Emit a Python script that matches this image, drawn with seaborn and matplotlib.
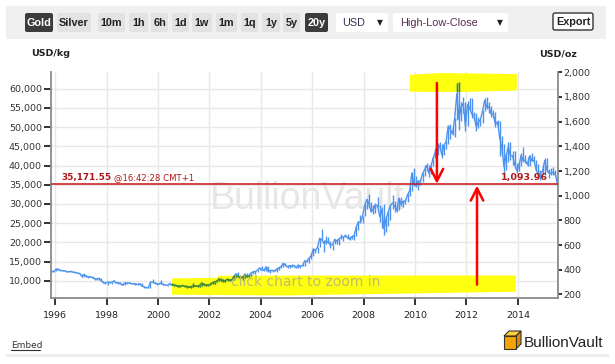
import numpy as np
import pandas as pd
import seaborn as sns
import matplotlib.pyplot as plt
from matplotlib.patches import Rectangle, FancyBboxPatch, Polygon
from matplotlib.lines import Line2D
from matplotlib.ticker import StrMethodFormatter

KG_PER_OZ = 32.1507466

# monthly gold price, USD/oz, Nov 1995 .. Jul 2015
start_year, start_month = 1995, 11
close = [387, 387,
         405, 401, 396, 392, 391, 383, 385, 387, 379, 379, 372, 369,
         345, 363, 349, 340, 345, 335, 326, 325, 332, 311, 297, 290,
         302, 297, 301, 309, 293, 296, 288, 274, 294, 292, 294, 288,
         286, 287, 280, 286, 268, 262, 256, 255, 300, 300, 292, 288,
         285, 294, 279, 276, 274, 289, 276, 277, 273, 264, 269, 273,
         265, 267, 258, 264, 267, 270, 265, 274, 293, 278, 275, 277,
         282, 297, 302, 308, 326, 318, 305, 313, 324, 316, 317, 347,
         368, 347, 334, 339, 364, 346, 354, 375, 384, 386, 398, 416,
         399, 395, 424, 388, 394, 395, 391, 408, 416, 428, 453, 438,
         422, 435, 428, 435, 417, 437, 429, 434, 473, 470, 495, 513,
         569, 556, 584, 655, 643, 613, 633, 623, 599, 604, 646, 632,
         650, 665, 664, 677, 659, 650, 665, 673, 743, 789, 783, 834,
         923, 971, 933, 871, 887, 928, 918, 833, 884, 730, 814, 869,
         919, 942, 916, 883, 980, 926, 955, 955, 1008, 1040, 1182, 1096,
         1081, 1118, 1115, 1179, 1213, 1244, 1181, 1246, 1307, 1357, 1387, 1405,
         1331, 1409, 1439, 1563, 1536, 1500, 1628, 1826, 1620, 1722, 1746, 1565,
         1737, 1710, 1662, 1651, 1558, 1598, 1615, 1686, 1772, 1717, 1720, 1664,
         1663, 1578, 1598, 1469, 1393, 1234, 1322, 1396, 1326, 1323, 1253, 1202,
         1244, 1326, 1284, 1288, 1250, 1322, 1283, 1287, 1211, 1172, 1182, 1199,
         1284, 1213, 1183, 1182, 1190, 1172, 1094]
high = [392, 392,
        418, 416, 401, 398, 395, 390, 388, 391, 387, 386, 384, 375,
        366, 364, 360, 348, 349, 348, 335, 330, 336, 333, 313, 297,
        305, 303, 303, 315, 305, 297, 297, 290, 300, 303, 300, 296,
        293, 290, 292, 290, 289, 268, 264, 262, 305, 328, 305, 290,
        292, 314, 295, 288, 280, 292, 292, 280, 279, 274, 271, 275,
        272, 268, 271, 265, 292, 278, 275, 279, 294, 293, 283, 280,
        294, 303, 304, 309, 328, 330, 325, 318, 325, 323, 326, 349,
        372, 382, 352, 340, 372, 371, 367, 377, 392, 392, 400, 417,
        427, 418, 430, 428, 395, 399, 410, 415, 420, 430, 456, 455,
        441, 437, 445, 438, 431, 443, 437, 449, 473, 478, 496, 538,
        571, 572, 585, 654, 730, 645, 670, 665, 632, 608, 649, 648,
        652, 690, 672, 692, 690, 672, 684, 680, 745, 790, 845, 838,
        933, 975, 1011, 950, 925, 939, 988, 921, 905, 933, 822, 880,
        929, 1005, 959, 922, 985, 990, 962, 972, 1025, 1070, 1195, 1227,
        1162, 1128, 1135, 1182, 1249, 1265, 1250, 1250, 1310, 1387, 1424, 1431,
        1420, 1412, 1447, 1575, 1577, 1552, 1632, 1913, 1921, 1760, 1803, 1763,
        1764, 1791, 1790, 1678, 1668, 1640, 1625, 1692, 1790, 1796, 1755, 1723,
        1696, 1678, 1616, 1605, 1487, 1420, 1348, 1433, 1434, 1361, 1361, 1267,
        1270, 1345, 1392, 1331, 1315, 1328, 1345, 1323, 1287, 1256, 1207, 1239,
        1307, 1309, 1220, 1224, 1232, 1205, 1170]
low = [383, 383,
       387, 398, 393, 388, 388, 382, 380, 384, 379, 377, 370, 366,
       343, 338, 345, 337, 338, 335, 317, 318, 316, 308, 295, 282,
       278, 290, 288, 300, 292, 287, 288, 273, 276, 288, 290, 285,
       283, 280, 279, 278, 266, 256, 252, 253, 254, 296, 288, 279,
       281, 283, 276, 273, 270, 275, 275, 270, 269, 264, 263, 267,
       262, 255, 257, 255, 264, 265, 262, 264, 271, 277, 271, 271,
       275, 282, 288, 298, 307, 312, 302, 302, 312, 313, 315, 317,
       343, 344, 323, 320, 337, 342, 341, 351, 369, 366, 380, 397,
       398, 392, 392, 384, 373, 384, 387, 386, 397, 411, 422, 429,
       418, 412, 423, 421, 414, 414, 416, 428, 433, 460, 456, 490,
       513, 538, 535, 584, 640, 543, 611, 613, 573, 560, 605, 608,
       604, 648, 636, 665, 652, 640, 648, 642, 670, 725, 780, 780,
       835, 895, 912, 866, 850, 860, 905, 786, 740, 681, 705, 753,
       802, 895, 864, 865, 882, 915, 906, 930, 950, 999, 1042, 1076,
       1074, 1045, 1088, 1110, 1163, 1200, 1155, 1177, 1243, 1307, 1330, 1370,
       1308, 1329, 1382, 1420, 1462, 1495, 1478, 1616, 1535, 1605, 1670, 1522,
       1563, 1696, 1628, 1612, 1527, 1550, 1565, 1587, 1684, 1704, 1670, 1636,
       1626, 1555, 1562, 1321, 1338, 1180, 1208, 1270, 1292, 1251, 1227, 1182,
       1200, 1238, 1277, 1268, 1240, 1241, 1283, 1273, 1207, 1161, 1131, 1171,
       1168, 1191, 1142, 1170, 1170, 1162, 1077]

last_oz = 1093.96
last_kg_label = '35,171.55'
last_oz_label = '1,093.96'
last_time = '@16:42:28 CMT+1'

kg_ticks = [10000, 15000, 20000, 25000, 30000, 35000, 40000, 45000, 50000, 55000, 60000]
oz_ticks = [200, 400, 600, 800, 1000, 1200, 1400, 1600, 1800, 2000]
year_ticks = [1996, 1998, 2000, 2002, 2004, 2006, 2008, 2010, 2012, 2014]

metal_buttons = ['Gold', 'Silver']
range_buttons = ['10m', '1h', '6h', '1d', '1w', '1m', '1q', '1y', '5y', '20y']

# highlight boxes and arrows drawn on the screenshot (year, USD/oz)
hl_top = [(2009.80, 1980), (2011.0, 1994), (2013.96, 1985), (2013.96, 1852), (2011.8, 1840), (2009.80, 1842)]
hl_bottom = [(2000.55, 330), (2002.34, 335), (2002.34, 352), (2013.92, 354), (2013.92, 222),
             (2011.5, 214), (2005.0, 192), (2000.55, 198)]
arrow_down = ((2010.85, 1913), (2010.85, 1096))
arrow_up = ((2012.41, 280), (2012.41, 1082))

months = np.arange(len(close))
t = start_year + (start_month - 1 + months + 0.5) / 12
df = pd.DataFrame({'t': t, 'close': close, 'high': high, 'low': low})

sns.set_theme(style='white')
plt.rcParams['font.family'] = ['DejaVu Sans']

W, H = 615, 364
fig = plt.figure(figsize=(W / 100, H / 100), dpi=100, facecolor='white')

bg = fig.add_axes([0, 0, 1, 1], zorder=-1)
bg.set_xlim(0, W)
bg.set_ylim(H, 0)
bg.axis('off')
bg.add_patch(Rectangle((6, 6), 600, 33, color='#efefef', lw=0))
bg.add_patch(Rectangle((6, 354), 603, 3, color='#ececec', lw=0))

ax = fig.add_axes([51 / W, 1 - 298.3 / H, 507 / W, 226.3 / H])
ax.set_facecolor('none')
oz_lo, oz_hi = 169, 2002
ax.set_xlim(1995.84, 2015.56)
ax.set_ylim(oz_lo * KG_PER_OZ, oz_hi * KG_PER_OZ)
ax.set_yticks(kg_ticks)
ax.set_xticks(year_ticks)
ax.yaxis.set_major_formatter(StrMethodFormatter('{x:,.0f}'))
ax.grid(True, color='#e8e8e8', lw=1)
ax.tick_params(axis='y', direction='out', length=5, width=1.4, color='#333333',
               pad=1.5, labelsize=6.8, labelcolor='#333333', left=True)
ax.tick_params(axis='x', direction='out', length=5, width=1.4, color='#333333',
               pad=4, labelsize=6.8, labelcolor='#222222', bottom=True)
for s in ['top', 'right']:
    ax.spines[s].set_visible(False)
for s in ['left', 'bottom']:
    ax.spines[s].set_color('#8a8a8a')
    ax.spines[s].set_linewidth(1.3)

ax2 = ax.twinx()
ax2.set_ylim(oz_lo, oz_hi)
ax2.set_yticks(oz_ticks)
ax2.yaxis.set_major_formatter(StrMethodFormatter('{x:,.0f}'))
ax2.tick_params(axis='y', direction='out', length=3, width=1.4, color='#333333',
                pad=1, labelsize=6.8, labelcolor='#333333', right=True)
for s in ['top', 'left', 'bottom']:
    ax2.spines[s].set_visible(False)
ax2.spines['right'].set_color('#8a8a8a')
ax2.spines['right'].set_linewidth(1.3)

# watermark
ax2.text(307 / W, 1 - 199 / H, 'BullionVault', transform=fig.transFigure,
         family='Liberation Sans', fontsize=27, color='#e6e6e6', ha='center', va='center', zorder=0.5)

yellow = '#ffff10'
boxes = []
for pts in [hl_top, hl_bottom]:
    p = Polygon(pts, closed=True, color=yellow, lw=0, zorder=1)
    ax2.add_patch(p)
    boxes.append(p)

blue = '#4d92ec'
green = '#4a8c18'
ax2.vlines(df['t'], df['low'], df['high'], color=blue, lw=1, zorder=2)
sns.lineplot(data=df, x='t', y='close', ax=ax2, color=blue, lw=1, zorder=2)
for p in boxes:
    vl = ax2.vlines(df['t'], df['low'], df['high'], color=green, lw=1, zorder=3)
    vl.set_clip_path(p)
    ax2.plot(df['t'], df['close'], color=green, lw=1, zorder=3)[0].set_clip_path(p)
ax2.set_xlabel('')
ax2.set_ylabel('')
ax.set_xlabel('')
ax.set_xlim(1995.84, 2015.56)

ax2.text(306 / W, 1 - 282 / H, 'click chart to zoom in', transform=fig.transFigure,
         fontsize=10, color='#bdbd70', ha='center', va='center', zorder=3.5)

ax2.axhline(last_oz, color='#cc1111', lw=1.1, zorder=4)

for a in [arrow_down, arrow_up]:
    ax2.annotate('', xy=a[1], xytext=a[0],
                 arrowprops=dict(arrowstyle='->,head_length=0.55,head_width=0.28', color='#ff0000',
                                 lw=1.8, shrinkA=0, shrinkB=0, mutation_scale=16), zorder=5)

fg = fig.add_axes([0, 0, 1, 1], zorder=10)
fg.set_xlim(0, W)
fg.set_ylim(H, 0)
fg.axis('off')

# toolbar
btn_x = [(25, 53), (57, 91), (98, 125), (129, 148), (151, 168), (172, 189), (192, 212),
         (216, 237), (241, 258), (262, 280), (283, 300), (305, 328)]
labels = metal_buttons + range_buttons
for lab, (x0, x1) in zip(labels, btn_x):
    dark = lab in ('Gold', '20y')
    fg.add_patch(FancyBboxPatch((x0, 13), x1 - x0, 19, boxstyle='round,pad=0,rounding_size=2',
                                fc='#3c3c3c' if dark else '#e2e2e2', ec='none'))
    fg.text((x0 + x1) / 2, 22.8, lab, family='Liberation Sans', weight='bold', fontsize=7.8,
            color='white' if dark else '#222222', ha='center', va='center')

fg.add_patch(FancyBboxPatch((336, 13), 52, 19, boxstyle='round,pad=0,rounding_size=2', fc='white', ec='none'))
fg.text(342, 22.8, 'USD', family='Liberation Sans', fontsize=7.8, color='#333355', va='center')
fg.text(380, 22.8, '▼', fontsize=5.5, color='#222222', va='center', ha='center')
fg.add_patch(FancyBboxPatch((393, 13), 115, 19, boxstyle='round,pad=0,rounding_size=2', fc='white', ec='none'))
fg.text(400, 22.8, 'High-Low-Close', family='Liberation Sans', fontsize=7.8, color='#5a2a55', va='center')
fg.text(500, 22.8, '▼', fontsize=5.5, color='#222222', va='center', ha='center')
fg.add_patch(FancyBboxPatch((553, 13), 40, 17, boxstyle='round,pad=0,rounding_size=2',
                            fc='white', ec='#333333', lw=1))
fg.text(573, 21.8, 'Export', family='Liberation Sans', weight='bold', fontsize=7.8,
        color='#222222', ha='center', va='center')

fg.text(31, 54, 'USD/kg', weight='bold', fontsize=6.8, color='#222222', va='center')
fg.text(539, 54, 'USD/oz', weight='bold', fontsize=6.8, color='#222222', va='center')

fg.text(61, 177.5, last_kg_label, weight='bold', fontsize=6.4, color='#b01818', va='center')
fg.text(114, 177.5, last_time, fontsize=6.1, color='#b01818', va='center')
fg.text(548, 177.5, last_oz_label, weight='bold', fontsize=6.8, color='#b01818', va='center', ha='right')

fg.text(11, 345, 'Embed', fontsize=6.5, color='#333333', va='center')
fg.add_line(Line2D([11, 40], [350, 350], color='#333333', lw=0.8))

# logo
fg.add_patch(Polygon([(504, 336), (509, 331), (521, 331), (516, 336)], closed=True, fc='#ffd23c', ec='#333333', lw=0.8))
fg.add_patch(Polygon([(516, 336), (521, 331), (521, 344), (516, 349)], closed=True, fc='#d98a00', ec='#333333', lw=0.8))
fg.add_patch(Rectangle((504, 336), 12, 13, fc='#f5a300', ec='#333333', lw=0.8))
fg.text(524, 343, 'BullionVault', family='Liberation Sans', fontsize=11, color='#222222', va='center')

fig.savefig('out.png', dpi=100)
